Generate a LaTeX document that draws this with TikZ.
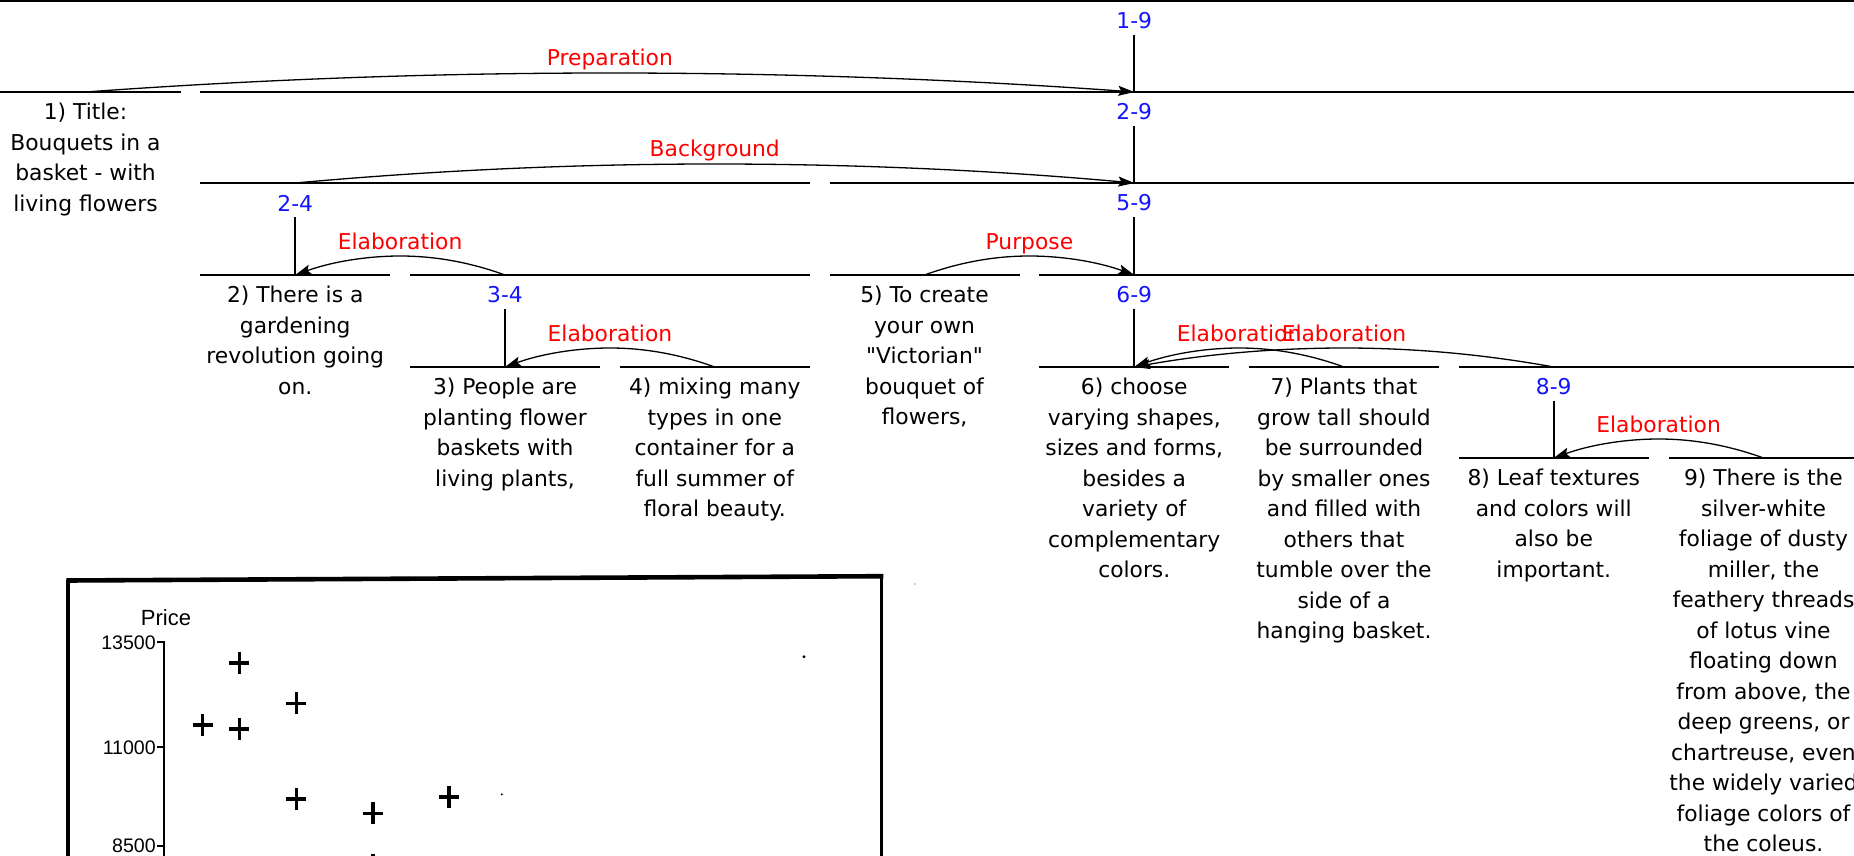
\documentclass[tikz,border=0pt]{standalone}
\usepackage{fontspec}
\setmainfont{DejaVu Sans}[Ligatures=TeXOff]
\newfontfamily\chartfont{Liberation Sans}
\usetikzlibrary{arrows.meta,calc}
\definecolor{rstblue}{RGB}{20,20,255}
\definecolor{rstred}{RGB}{255,0,0}
\newcommand\relarc[2]{%
  \draw[rarc] let \p1=(#1), \p2=(#2), \n1={(\x2-\x1)/6} in
    (\p1) .. controls (\x1+\n1, \y1+12.67) and ({(\x1+\x2)/2-\n1}, \y1+19) .. ({(\x1+\x2)/2}, \y1+19)
          .. controls ({(\x1+\x2)/2+\n1}, \y1+19) and (\x2-\n1, \y2+12.67) .. (\p2);}
\begin{document}
\begin{tikzpicture}[x=1pt,y=-1pt,
  txt/.style={font=\fontsize{21.8}{30.5}\selectfont, align=center, anchor=north, inner sep=0pt},
  spanlbl/.style={font=\fontsize{21.8}{30.5}\selectfont, text=rstblue, inner xsep=0pt, inner ysep=6pt},
  rellbl/.style={font=\fontsize{21.8}{30.5}\selectfont, text=rstred, anchor=base, inner sep=0pt},
  bar/.style={line width=1.8pt},
  vline/.style={line width=1.7pt},
  rarc/.style={line width=1.3pt, -{Stealth[length=16pt,width=10pt,inset=3pt]}},
  chartlbl/.style={font=\chartfont\fontsize{19.6}{21}\selectfont, inner sep=0pt},
  plusmark/.style={line width=3.6pt}
]
\useasboundingbox (0,0) rectangle (1854,856);
\fill[white] (0,0) rectangle (1854,856);
\clip (0,0) rectangle (1854,856);

% bars
\draw[bar] (0,1) -- (1860,1);
\draw[bar] (-10,92) -- (180.5,92);
\draw[bar] (200.25,92) -- (1860,92);
\draw[bar] (200.25,183) -- (809.75,183);
\draw[bar] (829.5,183) -- (1860,183);
\draw[bar] (200.25,275) -- (390.25,275);
\draw[bar] (410,275) -- (809.75,275);
\draw[bar] (829.5,275) -- (1019.5,275);
\draw[bar] (1039.25,275) -- (1860,275);
\draw[bar] (410,367) -- (600,367);
\draw[bar] (619.75,367) -- (809.75,367);
\draw[bar] (1039.25,367) -- (1229.25,367);
\draw[bar] (1249,367) -- (1439,367);
\draw[bar] (1458.75,367) -- (1860,367);
\draw[bar] (1458.75,458) -- (1648.75,458);
\draw[bar] (1668.5,458) -- (1860,458);

% attach points
\coordinate (t1) at (85.5,92);
\coordinate (t29) at (1134.25,92);
\coordinate (t24) at (295.25,183);
\coordinate (t59) at (1134.25,183);
\coordinate (t2) at (295.25,275);
\coordinate (t34) at (505,275);
\coordinate (t5) at (924.5,275);
\coordinate (t69) at (1134.25,275);
\coordinate (t3) at (505,367);
\coordinate (t4) at (714.75,367);
\coordinate (t6) at (1134.25,367);
\coordinate (t7) at (1344,367);
\coordinate (t89) at (1553.75,367);
\coordinate (t8) at (1553.75,458);
\coordinate (t9) at (1763.5,458);

% span labels
\node[spanlbl] (s19) at (1134.25,21) {1-9};
\node[spanlbl] (s29) at (1134.25,112) {2-9};
\node[spanlbl] (s24) at (295.25,203) {2-4};
\node[spanlbl] (s59) at (1134.25,203) {5-9};
\node[spanlbl] (s34) at (505,295) {3-4};
\node[spanlbl] (s69) at (1134.25,295) {6-9};
\node[spanlbl] (s89) at (1553.75,387) {8-9};

\draw[vline] (s19) -- (t29);
\draw[vline] (s29) -- (t59);
\draw[vline] (s59) -- (t69);
\draw[vline] (s24) -- (t2);
\draw[vline] (s34) -- (t3);
\draw[vline] (s69) -- (t6);
\draw[vline] (s89) -- (t8);

% text nodes
\node[txt] (n1) at (85.5,98) {\strut 1) Title:\\Bouquets in a\\basket - with\\living flowers};
\node[txt] (n2) at (295.25,281) {\strut 2) There is a\\gardening\\revolution going\\on.};
\node[txt] (n3) at (505,373) {\strut 3) People are\\planting flower\\baskets with\\living plants,};
\node[txt] (n4) at (714.75,373) {\strut 4) mixing many\\types in one\\container for a\\full summer of\\floral beauty.};
\node[txt] (n5) at (924.5,281) {\strut 5) To create\\your own\\"Victorian"\\bouquet of\\flowers,};
\node[txt] (n6) at (1134.25,373) {\strut 6) choose\\varying shapes,\\sizes and forms,\\besides a\\variety of\\complementary\\colors.};
\node[txt] (n7) at (1344,373) {\strut 7) Plants that\\grow tall should\\be surrounded\\by smaller ones\\and filled with\\others that\\tumble over the\\side of a\\hanging basket.};
\node[txt] (n8) at (1553.75,464) {\strut 8) Leaf textures\\and colors will\\also be\\important.};
\node[txt] (n9) at (1763.5,464) {\strut 9) There is the\\silver-white\\foliage of dusty\\miller, the\\feathery threads\\of lotus vine\\floating down\\from above, the\\deep greens, or\\chartreuse, even\\the widely varied\\foliage colors of\\the coleus.};

% relation labels
\node[rellbl] (r1) at (609.9,66) {Preparation};
\node[rellbl] (r2) at (714.75,157) {Background};
\node[rellbl] (r3) at (400.1,249) {Elaboration};
\node[rellbl] (r4) at (1029.4,249) {Purpose};
\node[rellbl] (r5) at (609.9,341) {Elaboration};
\node[rellbl] (r6) at (1239.1,341) {Elaboration};
\node[rellbl] (r7) at (1344,341) {Elaboration};
\node[rellbl] (r8) at (1658.6,432) {Elaboration};

% relation arcs
\relarc{t1}{t29}
\relarc{t24}{t59}
\relarc{t34}{t2}
\relarc{t5}{t69}
\relarc{t4}{t3}
\relarc{t7}{t6}
\relarc{t89}{t6}
\relarc{t9}{t8}

% scanned chart
\draw[line width=3.2pt] (68,870) -- (68,579.5);
\draw[line width=3.5pt] (881.7,870) -- (881.7,576);
\draw[line width=4.6pt] (66.4,580.5) -- (883.4,576.2);
\draw[line width=2.4pt] (164,641) -- (164,870);
\draw[line width=2pt] (157,641.7) -- (165.1,641.7);
\draw[line width=2pt] (157,747.3) -- (164,747.3);
\draw[line width=2pt] (157,846) -- (164,846);
\node[chartlbl, font=\chartfont\fontsize{22}{24}\selectfont, anchor=base] (price) at (166,625) {Price};
\node[chartlbl, anchor=base east] (y1) at (156,649.3) {13500};
\node[chartlbl, anchor=base east] (y2) at (156,754.3) {11000};
\node[chartlbl, anchor=base east] (y3) at (156,852.7) {8500};
\foreach \px/\py in {239.4/662.7, 296.4/703.3, 202.5/725, 239.4/729, 296.4/799, 449/796.7, 373.2/813.3, 373.2/865}
  \draw[plusmark] (\px-10,\py) -- (\px+10,\py) (\px,\py-11) -- (\px,\py+11);
\fill (804,656.7) circle (1.6);
\fill (501.8,794.3) circle (1.1);
\fill[gray!50] (915,584) circle (1.2);
\end{tikzpicture}
\end{document}
